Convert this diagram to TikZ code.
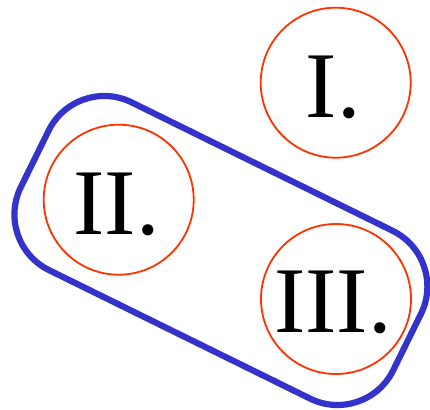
\documentclass[tikz,border=0pt]{standalone}
\usepackage{fontspec}
\setmainfont{Liberation Serif}
\definecolor{ringred}{RGB}{255,51,0}
\definecolor{groupblue}{RGB}{51,51,204}
\begin{document}
\begin{tikzpicture}[x=1pt,y=1pt,
  ring/.style={circle, draw=ringred, line width=1.8pt, minimum size=150pt, inner sep=0pt},
  numeral/.style={anchor=base, inner sep=0pt, font=\fontsize{94}{94}\selectfont},
  groupbox/.style={draw=groupblue, line width=6.2pt, rounded corners=62pt}]
\useasboundingbox (0,0) rectangle (430,409);
\node[ring] (cI) at (335.7,326.3) {};
\node[ring] (cII) at (118.7,209.3) {};
\node[ring] (cIII) at (336,110) {};
\node[numeral] (tI) at (333.3,291.7) {I.};
\node[numeral] (tII) at (116.7,174) {II.};
\node[numeral] (tIII) at (333,76.3) {III.};
\begin{scope}[shift={(220.9,158.5)}, rotate=-26.2]
\draw[groupbox] (-207.5,-93.5) rectangle (207.5,93.5);
\end{scope}
\end{tikzpicture}
\end{document}
